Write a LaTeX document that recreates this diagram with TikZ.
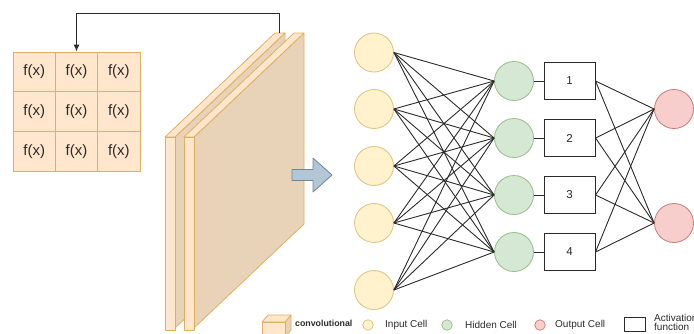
\documentclass[tikz,border=0pt]{standalone}
\usepackage{fontspec}
\setmainfont{Liberation Sans}
\usetikzlibrary{arrows.meta}
\definecolor{cellfill}{HTML}{FFE6CC}
\definecolor{cellline}{HTML}{E0B060}
\definecolor{slabside}{HTML}{E8D2B8}
\definecolor{inFill}{HTML}{FFF2CC}
\definecolor{inLine}{HTML}{DCC27A}
\definecolor{hidFill}{HTML}{D5E8D4}
\definecolor{hidLine}{HTML}{96BE86}
\definecolor{outFill}{HTML}{F8CECC}
\definecolor{outLine}{HTML}{C97A76}
\definecolor{flowFill}{HTML}{B3C6D5}
\definecolor{flowLine}{HTML}{6F879B}
\definecolor{ink}{HTML}{2B2B2B}
\begin{document}
\begin{tikzpicture}[x=1pt,y=-1pt,
  cell/.style={draw=cellline,fill=cellfill,line width=0.9pt,minimum width=42.33pt,minimum height=39.67pt,inner sep=0pt,font=\fontsize{15}{15}\selectfont,text=ink},
  incell/.style={circle,draw=inLine,fill=inFill,line width=0.8pt,minimum size=39pt,inner sep=0pt},
  hidcell/.style={circle,draw=hidLine,fill=hidFill,line width=0.8pt,minimum size=39pt,inner sep=0pt},
  outcell/.style={circle,draw=outLine,fill=outFill,line width=0.8pt,minimum size=39pt,inner sep=0pt},
  actbox/.style={draw=ink,fill=white,line width=1pt,minimum width=51pt,minimum height=37.5pt,inner sep=0pt,font=\fontsize{11.5}{11.5}\selectfont,text=ink},
  wire/.style={draw=ink,line width=0.9pt},
  legtext/.style={anchor=west,inner sep=0pt,font=\fontsize{10}{10}\selectfont,text=ink},
  slabline/.style={draw=cellline,line width=0.8pt,line join=round}
]
\useasboundingbox (0,0) rectangle (694,333);

% 3x3 filter grid
\foreach \r in {0,1,2}
  \foreach \c in {0,1,2}
    \node[cell] (g\r\c) at ({13+42.33*\c+21.17},{52+39.67*\r+19.83}) {f(x)};

% two convolution slabs (front strip, top strip, large side face)
\foreach \x in {165,184} {
  \filldraw[slabline,fill=slabside] (\x+10,137) -- (\x+120,33) -- (\x+120,224) -- (\x+10,328) -- cycle;
  \filldraw[slabline,fill=cellfill] (\x,137) -- (\x+10,137) -- (\x+120,33) -- (\x+110,33) -- cycle;
  \filldraw[slabline,fill=cellfill] (\x,137) rectangle (\x+10,330);
}

% feedback connector from slab top to grid
\coordinate (fb) at (279,33);
\draw[draw=ink,line width=1pt,-{Latex[length=7pt,width=6pt]}] (fb) -- (279,13) -| (g01.north);

% flow arrow into the network
\filldraw[draw=flowLine,fill=flowFill,line width=0.8pt,line join=round]
  (292,169.5) -- (313,169.5) -- (313,158) -- (332,175) -- (313,192) -- (313,180.5) -- (292,180.5) -- cycle;

% network cells
\foreach \i/\y in {1/52.5,2/109,3/166,4/223,5/290}
  \node[incell] (i\i) at (374,\y) {};
\foreach \i/\y in {1/81,2/138,3/195,4/252} {
  \node[hidcell] (h\i) at (514,\y) {};
  \node[actbox] (a\i) at (569.5,\y) {\i};
  \draw[wire] (h\i) -- (a\i);
}
\foreach \i/\y in {1/109,2/223}
  \node[outcell] (o\i) at (674,\y) {};

% connections
\foreach \i in {1,...,5}
  \foreach \j in {1,...,4}
    \draw[wire] (i\i.east) -- (h\j.west);
\foreach \j in {1,...,4}
  \foreach \k in {1,2}
    \draw[wire] (a\j.east) -- (o\k.west);

% legend
\filldraw[slabline,fill=slabside] (285,322) -- (291,315) -- (291,330) -- (285,337) -- cycle;
\filldraw[slabline,fill=cellfill] (262,322) -- (285,322) -- (291,315) -- (268,315) -- cycle;
\filldraw[slabline,fill=cellfill] (262,322) rectangle (285,337);
\node[legtext,font=\fontsize{8.8}{9}\selectfont\bfseries] (lconv) at (295,323.5) {convolutional};
\node[circle,draw=inLine,fill=inFill,line width=0.7pt,minimum size=10.5pt,inner sep=0pt] (lin) at (368,325) {};
\node[legtext] (lint) at (385,325) {Input Cell};
\node[circle,draw=hidLine,fill=hidFill,line width=0.7pt,minimum size=10.5pt,inner sep=0pt] (lhid) at (447,325) {};
\node[legtext] (lhidt) at (465,325) {Hidden Cell};
\node[circle,draw=outLine,fill=outFill,line width=0.7pt,minimum size=10.5pt,inner sep=0pt] (lout) at (540,325) {};
\node[legtext] (loutt) at (555,325) {Output Cell};
\node[draw=ink,line width=1pt,minimum width=21pt,minimum height=14pt,inner sep=0pt] (lact) at (634.5,324.5) {};
\node[legtext,align=left,font=\fontsize{10}{9.5}\selectfont] (lactt) at (654,322.5) {Activation\\function};
\end{tikzpicture}
\end{document}
